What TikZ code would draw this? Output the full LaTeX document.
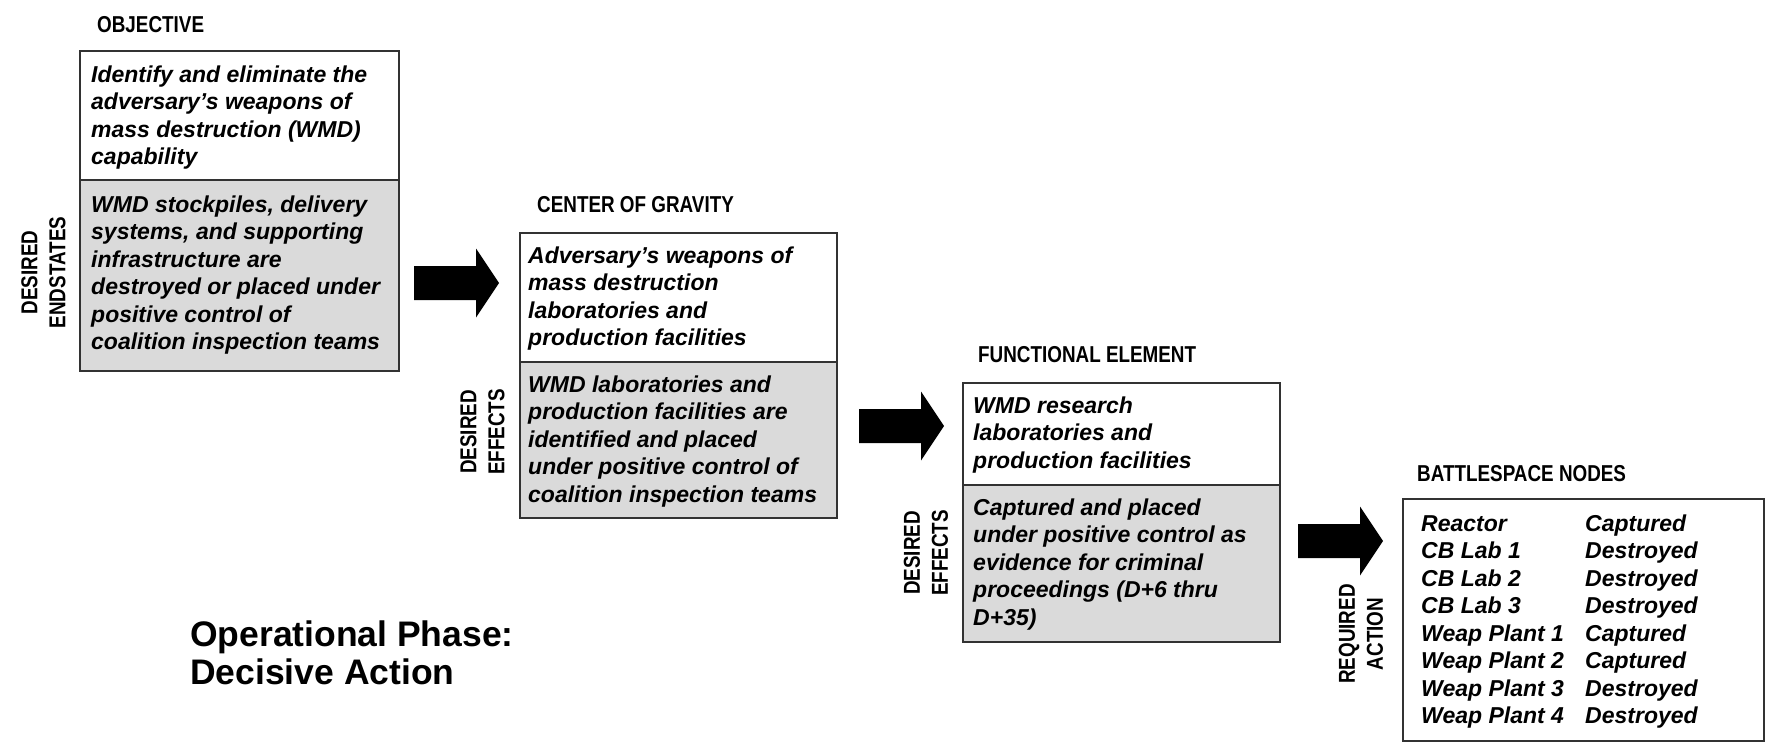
\documentclass[tikz,border=0pt]{standalone}
\usepackage{fontspec}
\setmainfont{Liberation Sans}
\newfontfamily\condfont{Liberation Sans}[FakeStretch=0.82]
\definecolor{boxgray}{RGB}{218,218,218}
\definecolor{edgegray}{RGB}{50,50,50}
\newcommand{\boxtxt}[2]{\parbox[t]{#1}{\raggedright\fontsize{23}{27.5}\selectfont\bfseries\itshape #2}}
\begin{document}
\begin{tikzpicture}[x=1pt,y=-1pt,
  box/.style={draw=edgegray, line width=1.8pt, rectangle, inner sep=0pt, anchor=north west},
  upper/.style={box, fill=white},
  lower/.style={box, fill=boxgray},
  btext/.style={anchor=base west, inner sep=0pt},
  headlbl/.style={anchor=base west, inner sep=0pt, font=\condfont\bfseries\fontsize{23}{26}\selectfont},
  sidelbl/.style={rotate=90, align=center, inner sep=0pt, font=\condfont\bfseries\fontsize{23}{28}\selectfont},
  barrow/.pic={\fill[black] (0,-17) -- (62,-17) -- (62,-34.5) -- (85,0) -- (62,34.5) -- (62,17) -- (0,17) -- cycle;}
]
\useasboundingbox[fill=white] (0,0) rectangle (1769,744);

% ---------- Objective ----------
\node[headlbl] (hobj) at (97,32) {OBJECTIVE};
\node[upper, minimum width=319pt, minimum height=129pt] (objA) at (79,50) {};
\node[lower, minimum width=319pt, minimum height=191pt] (objB) at (79,179) {};
\node[btext] (tobjA) at (91,82) {\boxtxt{300pt}{Identify and eliminate the\\ adversary’s weapons of\\ mass destruction (WMD)\\ capability}};
\node[btext] (tobjB) at (91,212) {\boxtxt{300pt}{WMD stockpiles, delivery\\ systems, and supporting\\ infrastructure are\\ destroyed or placed under\\ positive control of\\ coalition inspection teams}};
\node[sidelbl] (sobj) at (43.5,272.5) {DESIRED\\ENDSTATES};

\pic at (414,283) {barrow};

% ---------- Center of gravity ----------
\node[headlbl] (hcog) at (537,212) {CENTER OF GRAVITY};
\node[upper, minimum width=317pt, minimum height=129pt] (cogA) at (519,232) {};
\node[lower, minimum width=317pt, minimum height=156pt] (cogB) at (519,361) {};
\node[btext] (tcogA) at (528,263) {\boxtxt{305pt}{Adversary’s weapons of\\ mass destruction\\ laboratories and\\ production facilities}};
\node[btext] (tcogB) at (528,392) {\boxtxt{305pt}{WMD laboratories and\\ production facilities are\\ identified and placed\\ under positive control of\\ coalition inspection teams}};
\node[sidelbl] (scog) at (482.5,432) {DESIRED\\EFFECTS};

\pic at (859,426) {barrow};

% ---------- Functional element ----------
\node[headlbl] (hfe) at (978,362) {FUNCTIONAL ELEMENT};
\node[upper, minimum width=317pt, minimum height=102pt] (feA) at (962,382) {};
\node[lower, minimum width=317pt, minimum height=157pt] (feB) at (962,484) {};
\node[btext] (tfeA) at (973,413) {\boxtxt{300pt}{WMD research\\ laboratories and\\ production facilities}};
\node[btext] (tfeB) at (973,515) {\boxtxt{300pt}{Captured and placed\\ under positive control as\\ evidence for criminal\\ proceedings (D+6 thru\\ D+35)}};
\node[sidelbl] (sfe) at (926,553) {DESIRED\\EFFECTS};

\pic at (1298,541) {barrow};

% ---------- Battlespace nodes ----------
\node[headlbl] (hbn) at (1417,481) {BATTLESPACE NODES};
\node[upper, minimum width=361pt, minimum height=242pt] (bn) at (1402,498) {};
\node[btext] (tbnL) at (1421,531) {\boxtxt{160pt}{Reactor\\ CB Lab 1\\ CB Lab 2\\ CB Lab 3\\ Weap Plant 1\\ Weap Plant 2\\ Weap Plant 3\\ Weap Plant 4}};
\node[btext] (tbnR) at (1585,531) {\boxtxt{170pt}{Captured\\ Destroyed\\ Destroyed\\ Destroyed\\ Captured\\ Captured\\ Destroyed\\ Destroyed}};
\node[sidelbl] (sbn) at (1361,634) {REQUIRED\\ACTION};

% ---------- Phase title ----------
\node[btext] (phase) at (190,646) {\parbox[t]{450pt}{\raggedright\fontsize{35.5}{38}\selectfont\bfseries Operational Phase:\\ Decisive Action}};
\end{tikzpicture}
\end{document}
